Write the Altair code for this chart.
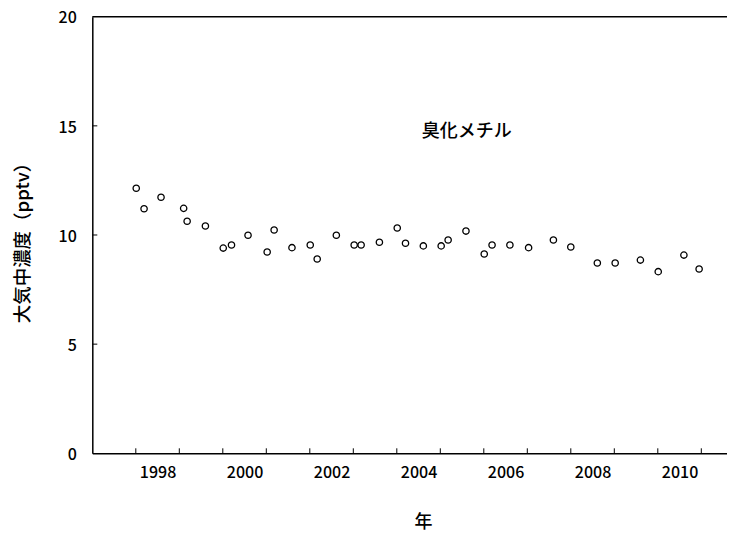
import altair as alt
import pandas as pd

# Measurement times (decimal years) and methyl bromide concentrations (pptv)
years = [1998.01, 1998.19, 1998.58, 1999.10, 1999.18, 1999.60,
         2000.01, 2000.20, 2000.58, 2001.02, 2001.18, 2001.59,
         2002.01, 2002.17, 2002.61, 2003.02, 2003.18, 2003.60,
         2004.01, 2004.20, 2004.61, 2005.02, 2005.18, 2005.59,
         2006.01, 2006.19, 2006.60, 2007.03, 2007.60, 2008.00,
         2008.61, 2009.02, 2009.60, 2010.01, 2010.60, 2010.95]
values = [12.14, 11.20, 11.73, 11.22, 10.63, 10.41,
          9.40, 9.54, 9.99, 9.22, 10.23, 9.42,
          9.54, 8.90, 9.99, 9.54, 9.54, 9.67,
          10.32, 9.62, 9.50, 9.50, 9.77, 10.18,
          9.13, 9.54, 9.54, 9.42, 9.77, 9.45,
          8.72, 8.72, 8.85, 8.32, 9.08, 8.44]

tick_years = list(range(1998, 2012))
label_years = [1998.5, 2000.5, 2002.5, 2004.5, 2006.5, 2008.5, 2010.5]
y_ticks = [5, 10, 15]
y_labels = [0, 5, 10, 15, 20]
y_top = [20]
annotation = ["臭化メチル"]
annotation_x = [2005.61]
annotation_y = [14.7]

FONT = "Noto Sans CJK JP"
PER_YEAR = 43.5
W = 634.7
H = 436.6
X_END = 1997 + W / PER_YEAR

xscale = alt.Scale(domain=[1997, X_END], nice=False, zero=False)
yscale = alt.Scale(domain=[0, 20], nice=False, zero=True)

yaxis = alt.Axis(values=y_labels, ticks=False, grid=False, domainColor="black",
                 domainWidth=1.5, labelFont=FONT, labelFontSize=16, labelFontWeight=500,
                 labelColor="black", labelPadding=16, labelOffset=1.2,
                 title="大気中濃度（pptv）",
                 titleFont=FONT, titleFontSize=18.5, titleFontWeight=500,
                 titleColor="black", titleAngle=-90, titleX=-70, titleY=H / 2 + 3,
                 titleAlign="center", titleBaseline="middle")

xaxis = alt.Axis(orient="bottom", values=label_years, labelExpr="floor(datum.value)",
                 ticks=False, grid=False, domainColor="black", domainWidth=1.5,
                 labelFont=FONT, labelFontSize=16, labelFontWeight=500, labelColor="black",
                 labelPadding=11, labelOverlap=False, labelFlush=False,
                 title="年", titleFont=FONT, titleFontSize=18, titleFontWeight=500,
                 titleColor="black", titleX=330.7, titleY=69, titleAlign="center",
                 titleBaseline="middle")

df = pd.DataFrame({"year": years, "conc": values})

points = alt.Chart(df).mark_point(shape="circle", filled=False, color="black",
                                  size=40, strokeWidth=1.3, opacity=1).encode(
    x=alt.X("year:Q", scale=xscale, axis=xaxis),
    y=alt.Y("conc:Q", scale=yscale, axis=yaxis),
)

xticks = alt.Chart(pd.DataFrame({"t": tick_years})).mark_rule(color="black", strokeWidth=1).encode(
    x=alt.X("t:Q", scale=xscale, axis=xaxis),
    y=alt.value(H),
    y2=alt.value(H - 5),
)

yticks = alt.Chart(pd.DataFrame({"v": y_ticks})).mark_rule(color="black", strokeWidth=1).encode(
    y=alt.Y("v:Q", scale=yscale, axis=yaxis),
    x=alt.value(0),
    x2=alt.value(5),
)

topline = alt.Chart(pd.DataFrame({"v": y_top})).mark_rule(color="black", strokeWidth=1.5).encode(
    y=alt.Y("v:Q", scale=yscale, axis=yaxis),
    x=alt.value(0),
    x2=alt.value(W + 5),
)

label = alt.Chart(pd.DataFrame({"t": annotation_x, "v": annotation_y, "s": annotation})).mark_text(
    font=FONT, fontSize=18, fontWeight=500, color="black", align="center",
    baseline="middle").encode(
    x=alt.X("t:Q", scale=xscale, axis=xaxis),
    y=alt.Y("v:Q", scale=yscale, axis=yaxis),
    text="s:N",
)

chart = alt.layer(points, xticks, yticks, topline, label).properties(
    width=W, height=H,
    padding={"left": 84.3, "top": 8.7, "right": 0, "bottom": 80},
    autosize=alt.AutoSizeParams(type="none"),
    background="white",
).configure_view(stroke="transparent")

chart.save("out.html", embed_options={"renderer": "svg", "actions": False})
